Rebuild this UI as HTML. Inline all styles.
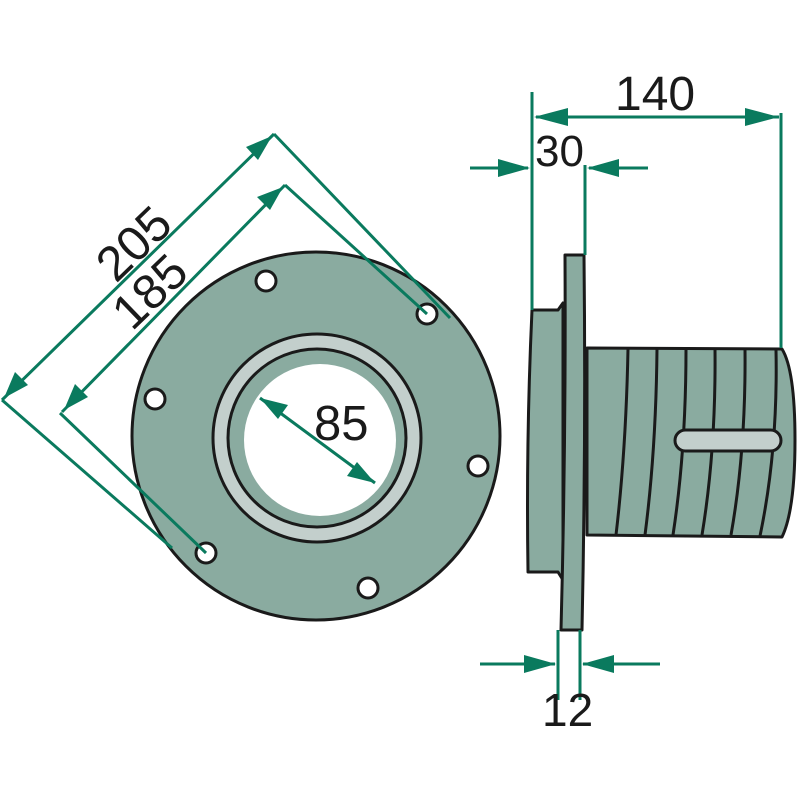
<!DOCTYPE html>
<html><head><meta charset="utf-8"><style>
html,body{margin:0;padding:0;background:#fff;}
svg{display:block;}
text{font-family:"Liberation Sans",sans-serif;fill:#1a1a1a;}
</style></head><body>
<svg width="800" height="800" viewBox="0 0 800 800" xmlns="http://www.w3.org/2000/svg">
<!-- Front view -->
<circle cx="316" cy="436" r="184" fill="#8aaba0" stroke="#1a1a1a" stroke-width="3"/>
<circle cx="317" cy="438" r="104" fill="#c3cfcc" stroke="#1a1a1a" stroke-width="3"/>
<circle cx="317" cy="438" r="89" fill="#8aaba0" stroke="#1a1a1a" stroke-width="3"/>
<circle cx="320" cy="440" r="76" fill="#fff"/>
<g fill="#fff" stroke="#1a1a1a" stroke-width="3">
<circle cx="266" cy="281" r="10"/><circle cx="427" cy="314" r="10"/>
<circle cx="155" cy="399" r="10"/><circle cx="478" cy="466" r="10"/>
<circle cx="206" cy="553" r="10"/><circle cx="368" cy="588" r="10"/>
</g>
<g stroke="#0a7a5e" stroke-width="3" fill="none">
<line x1="274" y1="134" x2="450" y2="318"/>
<line x1="2" y1="400" x2="172" y2="548"/>
<line x1="2" y1="400" x2="274" y2="134"/>
<line x1="285" y1="185" x2="427" y2="314"/>
<line x1="60" y1="413" x2="206" y2="553"/>
<line x1="62" y1="412" x2="285" y2="185"/>
<line x1="260" y1="398" x2="375" y2="483"/>
</g>
<g fill="#0a7a5e">
<polygon points="272,136 246,147 258,160"/>
<polygon points="4,398 15,372 28,385"/>
<polygon points="283,187 257,197 270,210"/>
<polygon points="64,410 75,384 88,397"/>
<polygon points="260,398 288,405 278,419"/>
<polygon points="375,483 347,476 357,462"/>
</g>
<text x="0" y="0" font-size="49" transform="translate(116,284) rotate(-44)">205</text>
<text x="0" y="0" font-size="49" transform="translate(132,332) rotate(-44)">185</text>
<text x="314" y="440" font-size="49">85</text>

<!-- Side view -->
<path d="M532,310 L558,310 L563,303 L563,580 L558,572 L528,572 Q526,440 532,310 Z" fill="#8aaba0" stroke="#1a1a1a" stroke-width="3" stroke-linejoin="round"/>
<path d="M565,255 L584,255 Q586,440 582,630 L561,630 Q566,440 565,255 Z" fill="#8aaba0" stroke="#1a1a1a" stroke-width="3" stroke-linejoin="round"/>
<path d="M587,348 L782,349 Q795,370 795,440 Q795,510 782,537 L587,535 Z" fill="#8aaba0" stroke="#1a1a1a" stroke-width="3" stroke-linejoin="round"/>
<g stroke="#1a1a1a" stroke-width="3" fill="none">
<path d="M628,349 Q626,450 616,535"/>
<path d="M657,349 Q656,450 645,535"/>
<path d="M686,349 Q686,450 673,535"/>
<path d="M715,349 Q716,450 702,535"/>
<path d="M745,349 Q746,450 731,535"/>
<path d="M776,350 Q778,450 760,536"/>
</g>
<rect x="675" y="430" width="106" height="21" rx="10.5" fill="#c3cfcc" stroke="#1a1a1a" stroke-width="3"/>

<g stroke="#0a7a5e" stroke-width="3" fill="none">
<line x1="532" y1="92" x2="532" y2="310"/>
<line x1="781" y1="113" x2="781" y2="348"/>
<line x1="536" y1="117" x2="779" y2="117"/>
<line x1="585" y1="165" x2="585" y2="255"/>
<line x1="470" y1="168" x2="528" y2="168"/>
<line x1="589" y1="168" x2="648" y2="168"/>
<line x1="558" y1="630" x2="558" y2="700"/>
<line x1="580" y1="630" x2="580" y2="700"/>
<line x1="480" y1="664" x2="555" y2="664"/>
<line x1="583" y1="664" x2="660" y2="664"/>
</g>
<g fill="#0a7a5e">
<polygon points="534,117 568,108 568,126"/>
<polygon points="779,117 745,108 745,126"/>
<polygon points="530,168 498,159 498,177"/>
<polygon points="587,168 619,159 619,177"/>
<polygon points="556,664 524,655 524,673"/>
<polygon points="582,664 614,655 614,673"/>
</g>
<text x="615" y="110" font-size="48">140</text>
<text x="535" y="166" font-size="44">30</text>
<text x="542" y="726" font-size="46">12</text>
</svg>
</body></html>
